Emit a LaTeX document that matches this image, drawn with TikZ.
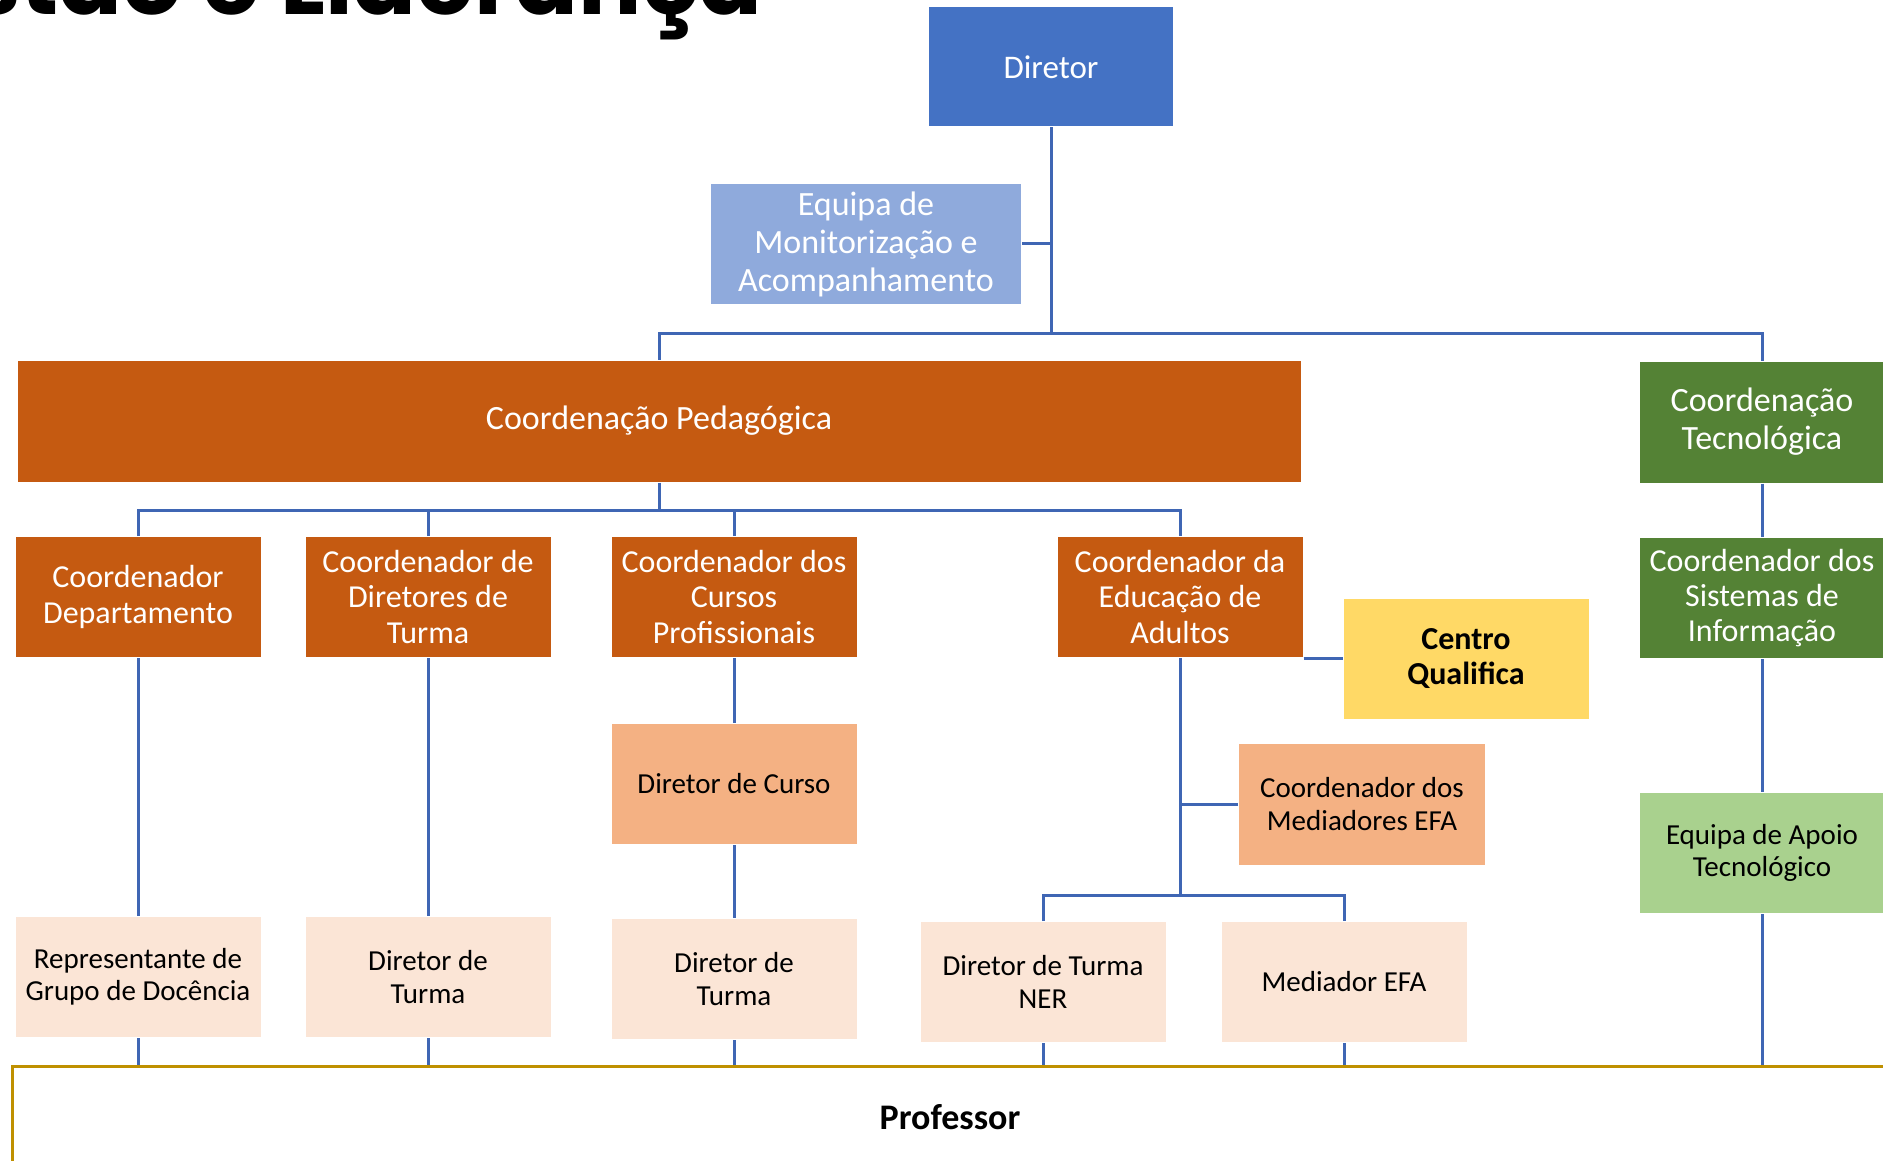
\documentclass[tikz,border=0pt]{standalone}
\usepackage{fontspec}
\setmainfont{Carlito}
\newfontfamily\titlefont{Poppins}
\usetikzlibrary{positioning,calc}
\definecolor{dirblue}{HTML}{4472C4}
\definecolor{monblue}{HTML}{8FAADC}
\definecolor{pedorange}{HTML}{C55A11}
\definecolor{tecgreen}{HTML}{548235}
\definecolor{qualyellow}{HTML}{FFD966}
\definecolor{peach}{HTML}{F4B183}
\definecolor{lightpeach}{HTML}{FBE5D6}
\definecolor{lightgreen}{HTML}{A9D18E}
\definecolor{profgold}{HTML}{BF9000}
\definecolor{linkblue}{HTML}{3F66B4}
\tikzstyle{box}=[rectangle, draw=white, line width=1pt, minimum width=246pt, minimum height=121pt, inner sep=0pt, align=center, text=white]
\tikzstyle{txtbig}=[font=\fontsize{34}{38}\selectfont]
\tikzstyle{txtmid}=[font=\fontsize{32}{35.4}\selectfont]
\tikzstyle{txtsmall}=[font=\fontsize{29}{32.2}\selectfont, text=black]
\tikzstyle{link}=[draw=linkblue, line width=3pt]

\begin{document}
\begin{tikzpicture}[x=1pt, y=-1pt]
	\useasboundingbox (0,0) rectangle (1883,1161);
	\clip (0,0) rectangle (1883,1161);

	% title, cut by the top edge
	\node[anchor=base east, inner sep=0pt, font=\titlefont\bfseries\fontsize{94}{94}\selectfont](title) at (763,15) {Gestão e Liderança};

	% top
	\node[box, fill=dirblue, minimum width=245pt, minimum height=120pt, font=\fontsize{33}{36}\selectfont](diretor) at (1051,67) {Diretor};
	\node[box, txtbig, fill=monblue, minimum width=311pt, minimum height=120pt](equipa) at (866,244) {Equipa de\\Monitorização e\\Acompanhamento};
	\node[box, txtbig, fill=pedorange, minimum width=1284pt, minimum height=122pt](coordped) at (659,421) {Coordenação Pedagógica};
	\node[box, txtbig, fill=tecgreen, minimum height=122pt](coordtec) at (1762,422) {Coordenação\\Tecnológica};

	% second row
	\node[box, txtmid, fill=pedorange](coorddep) at (138,597) {Coordenador\\Departamento};
	\node[box, txtmid, fill=pedorange](coorddt) at (428,597) {Coordenador de\\Diretores de\\Turma};
	\node[box, txtmid, fill=pedorange](coordcp) at (734,597) {Coordenador dos\\Cursos\\Profissionais};
	\node[box, txtmid, fill=pedorange](coordea) at (1180,597) {Coordenador da\\Educação de\\Adultos};
	\node[box, txtmid, fill=tecgreen](coordsi) at (1762,598) {Coordenador dos\\Sistemas de\\Informação};
	\node[box, fill=qualyellow, text=black, font=\bfseries\fontsize{32}{35}\selectfont](centroq) at (1466,659) {Centro\\Qualifica};

	% third row
	\node[box, txtsmall, fill=peach](dircurso) at (734,784) {Diretor de Curso};
	\node[box, txtsmall, fill=peach, minimum width=247pt, minimum height=122pt](coordmed) at (1362,804) {Coordenador dos\\Mediadores EFA};
	\node[box, txtsmall, fill=lightgreen](apoiotec) at (1762,853) {Equipa de Apoio\\Tecnológico};

	% fourth row
	\node[box, txtsmall, fill=lightpeach](repgrupo) at (138,977) {Representante de\\Grupo de Docência};
	\node[box, txtsmall, fill=lightpeach](dirturma1) at (428,977) {Diretor de\\Turma};
	\node[box, txtsmall, fill=lightpeach](dirturma2) at (734,979) {Diretor de\\Turma};
	\node[box, txtsmall, fill=lightpeach](dirturmaner) at (1043,982) {Diretor de Turma\\NER};
	\node[box, txtsmall, fill=lightpeach](medefa) at (1344,982) {Mediador EFA};

	% bottom
	\node[rectangle, draw=profgold, line width=3pt, minimum width=1876pt, minimum height=102pt, inner sep=0pt, font=\bfseries\fontsize{36}{40}\selectfont](professor) at (950,1117) {Professor};

	% connectors
	\coordinate (bus1) at (1051,333);
	\coordinate (bus2) at (659,510);
	\coordinate (bus3) at (1180,895);
	\draw[link] (diretor.south) -- (bus1);
	\draw[link] (equipa.east) -- (equipa.east -| diretor.south);
	\draw[link] (coordped.north) |- (bus1) -| (coordtec.north);
	\draw[link] (coordped.south) -- (bus2);
	\draw[link] (coorddep.north) |- (bus2) -| (coordea.north);
	\draw[link] (coorddt.north) -- (coorddt.north |- bus2);
	\draw[link] (coordcp.north) -- (coordcp.north |- bus2);
	\draw[link] (coordtec.south) -- (coordsi.north);
	\draw[link] (coordea.south east) -- (coordea.south east -| centroq.west);
	\draw[link] (coordcp.south) -- (dircurso.north);
	\draw[link] (dircurso.south) -- (dirturma2.north);
	\draw[link] (coordea.south) -- (bus3);
	\draw[link] (coordmed.west) -- (coordmed.west -| coordea.south);
	\draw[link] (dirturmaner.north) |- (bus3) -| (medefa.north);
	\draw[link] (coorddep.south) -- (repgrupo.north);
	\draw[link] (coorddt.south) -- (dirturma1.north);
	\draw[link] (coordsi.south) -- (apoiotec.north);
	\draw[link] (apoiotec.south) -- (apoiotec.south |- professor.north);
	\foreach \n in {repgrupo,dirturma1,dirturma2,dirturmaner,medefa}
		\draw[link] (\n.south) -- (\n.south |- professor.north);
\end{tikzpicture}
\end{document}
